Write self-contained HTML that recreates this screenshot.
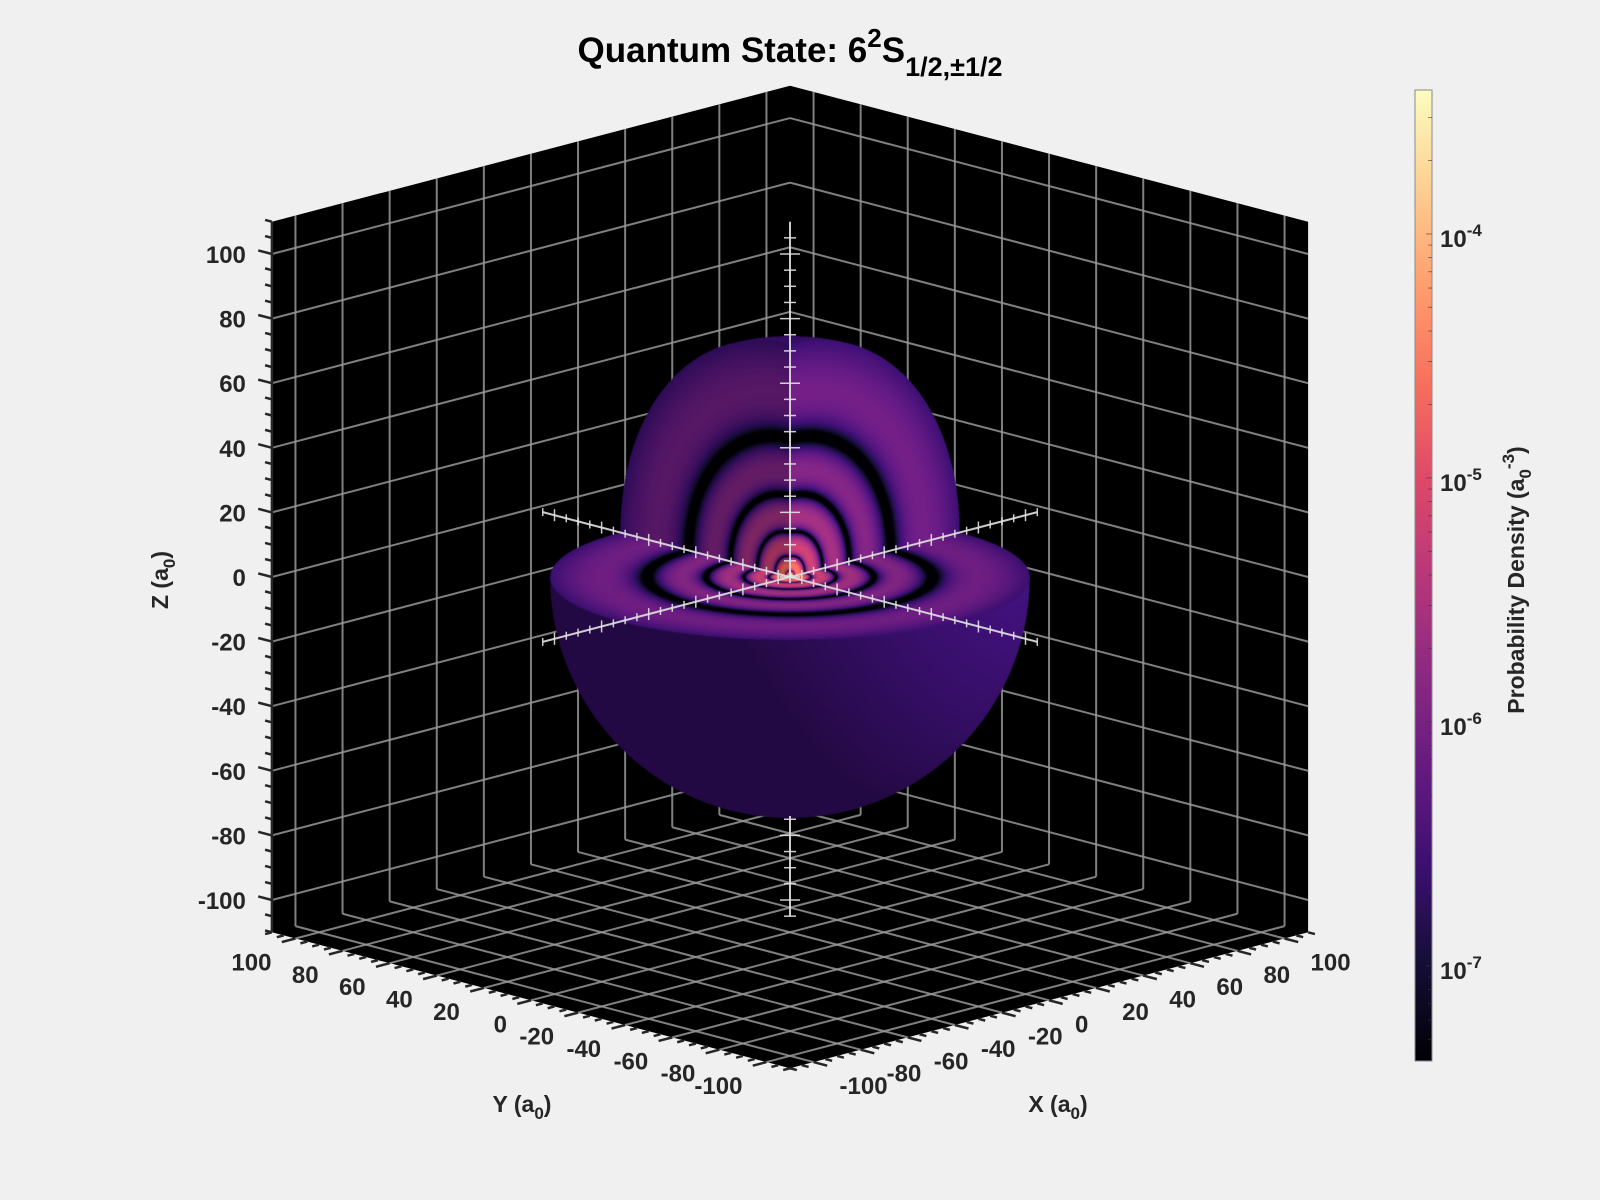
<!DOCTYPE html>
<html><head><meta charset="utf-8"><title>Quantum State 6s</title>
<style>
html,body{margin:0;padding:0;background:#f0f0f0;}
#wrap{position:relative;width:1600px;height:1200px;overflow:hidden;background:#f0f0f0;font-family:"Liberation Sans",sans-serif;}
svg,canvas{position:absolute;left:0;top:0;}
</style></head>
<body>
<div id="wrap">
<svg id="back" width="1600" height="1200"></svg>
<canvas id="orb" width="1600" height="1200"></canvas>
<svg id="front" width="1600" height="1200">
  <text x="790" y="62" text-anchor="middle" font-size="35" font-weight="bold" fill="#000">Quantum State: 6<tspan dy="-15" font-size="26">2</tspan><tspan dy="15">S</tspan><tspan dy="14" font-size="27">1/2,±1/2</tspan></text>
  <text x="522" y="1112" text-anchor="middle" font-size="23" font-weight="bold" fill="#262626">Y (a<tspan dy="7" font-size="17">0</tspan><tspan dy="-7">)</tspan></text>
  <text x="1058" y="1112" text-anchor="middle" font-size="23" font-weight="bold" fill="#262626">X (a<tspan dy="7" font-size="17">0</tspan><tspan dy="-7">)</tspan></text>
  <text x="0" y="0" transform="translate(168,580) rotate(-90)" text-anchor="middle" font-size="23" font-weight="bold" fill="#262626">Z (a<tspan dy="7" font-size="17">0</tspan><tspan dy="-7">)</tspan></text>
  <text x="0" y="0" transform="translate(1524,580) rotate(-90)" text-anchor="middle" font-size="23" font-weight="bold" fill="#262626">Probability Density (a<tspan dy="7" font-size="17">0</tspan><tspan dy="-17" font-size="17">-3</tspan><tspan dy="10">)</tspan></text>
</svg>
</div>
<script>
// ---- data ----
const gridValues = [-100,-80,-60,-40,-20,0,20,40,60,80,100];
const zTickLabels = ["-100","-80","-60","-40","-20","0","20","40","60","80","100"];
const xTickLabels = ["-100","-80","-60","-40","-20","0","20","40","60","80","100"];
const yTickLabels = ["-100","-80","-60","-40","-20","0","20","40","60","80","100"];
const axisLimits = [-110, 110];
const cbarDecades = [-7,-6,-5,-4];
const cbarLimits = [-7.39, -3.41];
const principalN = [6];
const laguerreCoeffs = [6,-15,10,-2.5,0.25,-1/120];
const sphereRadius = [72];
const magmaStops = [[0,0,4],[20,14,54],[59,15,112],[100,26,128],[140,41,129],[183,55,121],[222,73,104],[247,112,92],[254,159,109],[254,207,146],[252,253,191]];

// ---- projection ----
const K=2.355, M=0.618, S=3.23, CX=790, CY=577;
function P(x,y,z){return [CX+(x-y)*K, CY-(x+y)*M-z*S];}
const NS="http://www.w3.org/2000/svg";
function mk(parent,tag,attrs){const e=document.createElementNS(NS,tag);for(const k in attrs)e.setAttribute(k,attrs[k]);parent.appendChild(e);return e;}
function line(parent,a,b,stroke,w){return mk(parent,'line',{x1:a[0],y1:a[1],x2:b[0],y2:b[1],stroke:stroke,'stroke-width':w});}
const back=document.getElementById('back'), front=document.getElementById('front');
const L0=axisLimits[0], L1=axisLimits[1];

// walls
const wall = mk(back,'polygon',{points:[P(L0,L1,L1),P(L1,L1,L1),P(L1,L0,L1),P(L1,L0,L0),P(L0,L0,L0),P(L0,L1,L0)].map(p=>p.join(',')).join(' '),fill:'#000'});


const gc='rgba(150,150,150,0.85)';
const gridG=mk(back,'g',{});


gridValues.forEach(v=>{
  line(gridG,P(v,L1,L0),P(v,L1,L1),gc,2);
  line(gridG,P(L0,L1,v),P(L1,L1,v),gc,2);
  line(gridG,P(L1,v,L0),P(L1,v,L1),gc,2);
  line(gridG,P(L1,L0,v),P(L1,L1,v),gc,2);
  line(gridG,P(v,L0,L0),P(v,L1,L0),gc,2);
  line(gridG,P(L0,v,L0),P(L1,v,L0),gc,2);
});

// axis ticks + labels
const tc='#262626';
const axG=mk(back,'g',{});


for(let v=L0; v<=L1; v+=5){
  const major = v%20===0 && Math.abs(v)<=100;
  const len = major?5.8:2.9;
  line(axG,P(L0,L1,v),P(L0,L1+len,v),tc,2.5);
  line(axG,P(L0,v,L0),P(L0-len,v,L0),tc,2.5);
  line(axG,P(v,L0,L0),P(v,L0-len,L0),tc,2.5);
}
line(axG,P(L0,L1,L0),P(L0,L1,L1),tc,2.5);
gridValues.forEach((v,i)=>{
  let p=P(L0,L1,v);
  const tz=mk(back,'text',{x:p[0]-26,y:p[1]+9,'text-anchor':'end','font-size':24,'font-weight':'bold',fill:tc});
  tz.textContent=zTickLabels[i];
  
  
  p=P(L0,v,L0);
  const ty=mk(back,'text',{x:p[0]-24,y:p[1]+32,'text-anchor':'end','font-size':24,'font-weight':'bold',fill:tc});
  ty.textContent=yTickLabels[i];
  
  
  p=P(v,L0,L0);
  const tx=mk(back,'text',{x:p[0]+26,y:p[1]+32,'text-anchor':'start','font-size':24,'font-weight':'bold',fill:tc});
  tx.textContent=xTickLabels[i];
  
  
});

// ---- colormap ----
function cmap(f){f=Math.max(0,Math.min(1,f));const s=f*(magmaStops.length-1);const i=Math.min(Math.floor(s),magmaStops.length-2);const t=s-i;const a=magmaStops[i],b=magmaStops[i+1];return [a[0]+(b[0]-a[0])*t,a[1]+(b[1]-a[1])*t,a[2]+(b[2]-a[2])*t];}
function density(r){
  const n=principalN[0]; const rho=2*r/n; let L=0,pw=1;
  for(let i=0;i<laguerreCoeffs.length;i++){L+=laguerreCoeffs[i]*pw;pw*=rho;}
  const R=Math.sqrt(1/1944)*Math.exp(-rho/2)*L;
  return R*R/(4*Math.PI);
}

// ---- colorbar ----
const cbX=1415, cbW=17, cbTop=90, cbBot=1061;
function cbY(lg){return cbBot-(lg-cbarLimits[0])/(cbarLimits[1]-cbarLimits[0])*(cbBot-cbTop);}
const defs=mk(front,'defs',{});
const grad=mk(defs,'linearGradient',{id:'cbg',x1:0,y1:1,x2:0,y2:0});
for(let i=0;i<=20;i++){const c=cmap(i/20);mk(grad,'stop',{offset:(i/20),'stop-color':`rgb(${c.map(Math.round).join(',')})`});}
const cb=mk(front,'rect',{x:cbX,y:cbTop,width:cbW,height:cbBot-cbTop,fill:'url(#cbg)',stroke:'#8a8a8a','stroke-width':1});


for(let d=-8; d<=-3; d++){
  for(let m=1;m<10;m++){
    const lg=d+Math.log10(m);
    if(lg<cbarLimits[0]||lg>cbarLimits[1])continue;
    const y=cbY(lg);
    mk(front,'line',{x1:cbX+cbW-(m===1?6:4),y1:y,x2:cbX+cbW,y2:y,stroke:'rgba(60,60,60,0.6)','stroke-width':1});
  }
}
cbarDecades.forEach(d=>{
  const y=cbY(d);
  const t=mk(front,'text',{x:1440,y:y+13,'font-size':24,'font-weight':'bold',fill:tc});
  t.innerHTML='10<tspan dy="-11" font-size="17">'+d+'</tspan>';
  
  
});

// ---- orbital ray cast ----
(function(){
  const cv=document.getElementById('orb'), ctx=cv.getContext('2d');
  const x0=500,x1=1085,y0=280,y1=850,W=x1-x0,H=y1-y0;
  const img=ctx.createImageData(W,H);
  const R=sphereRadius[0], vz=2*M/S;
  const vv=2+vz*vz;
  let Lx=0.5,Ly=-0.75,Lz=0.5; const ln=Math.hypot(Lx,Ly,Lz); Lx/=ln;Ly/=ln;Lz/=ln;
  const lmin=cbarLimits[0], lmax=cbarLimits[1];
  for(let py=0;py<H;py++){
    for(let px=0;px<W;px++){
      let cr=0,cg=0,cb2=0,ca=0;
      for(let sy=0;sy<2;sy++)for(let sx=0;sx<2;sx++){
        const X=x0+px+0.25+sx*0.5, Y=y0+py+0.25+sy*0.5;
        const a=(X-CX)/K, b=(CY-Y)/M;
        const p0x=(a+b)/2, p0y=(b-a)/2;
        const B=2*(-p0x-p0y), C=p0x*p0x+p0y*p0y-R*R;
        const disc=B*B-4*vv*C;
        if(disc<0)continue;
        const sq=Math.sqrt(disc), t1=(-B-sq)/(2*vv), t2=(-B+sq)/(2*vv);
        const mn=Math.min(p0x,p0y);
        const c1=Math.max(0,mn);
        const face=(c1===0?'z':(mn===p0x?'x':'y'));
        let t,kind;
        if(t2<=c1){t=t2;kind='s';}
        else if(c1>t1){t=c1;kind=face;}
        else continue;
        const qx=p0x-t, qy=p0y-t, qz=t*vz;
        const r=Math.sqrt(qx*qx+qy*qy+qz*qz);
        let lg=Math.log10(Math.max(density(r),1e-12));
        const col=cmap((lg-lmin)/(lmax-lmin));
        let f;
        if(kind==='s'){const d=(qx*Lx+qy*Ly+qz*Lz)/R;f=0.62+0.6*Math.max(0,d);}
        else if(kind==='x')f=0.78;
        else if(kind==='y')f=1.05;
        else f=1.0;
        cr+=Math.min(255,col[0]*f);cg+=Math.min(255,col[1]*f);cb2+=Math.min(255,col[2]*f);ca+=1;
      }
      if(ca>0){
        const o=(py*W+px)*4;
        img.data[o]=cr/ca;img.data[o+1]=cg/ca;img.data[o+2]=cb2/ca;img.data[o+3]=255*ca/4;
      }
    }
  }
  ctx.putImageData(img,x0,y0);
})();

// ---- center axis lines (drawn on top) ----
const cg2='rgba(225,225,225,0.9)';
const cl=mk(front,'g',{});


const zHide=-sphereRadius[0];
line(cl,P(-105,0,0),P(105,0,0),cg2,2);
line(cl,P(0,-105,0),P(0,105,0),cg2,2);
line(cl,P(0,0,0),P(0,0,110),cg2,2);
line(cl,P(0,0,-105),P(0,0,zHide-2),cg2,2);
for(let v=-105; v<=105; v+=5){
  const major=v%20===0; const h=major?6:4;
  let p=P(v,0,0); line(cl,[p[0],p[1]-h],[p[0],p[1]+h],cg2,1.5);
  p=P(0,v,0); line(cl,[p[0],p[1]-h],[p[0],p[1]+h],cg2,1.5);
  if(v>=0||v<zHide-2){p=P(0,0,v); const w=major?10:6; line(cl,[p[0]-w,p[1]],[p[0]+w,p[1]],cg2,1.5);}
}
</script>
</body></html>
